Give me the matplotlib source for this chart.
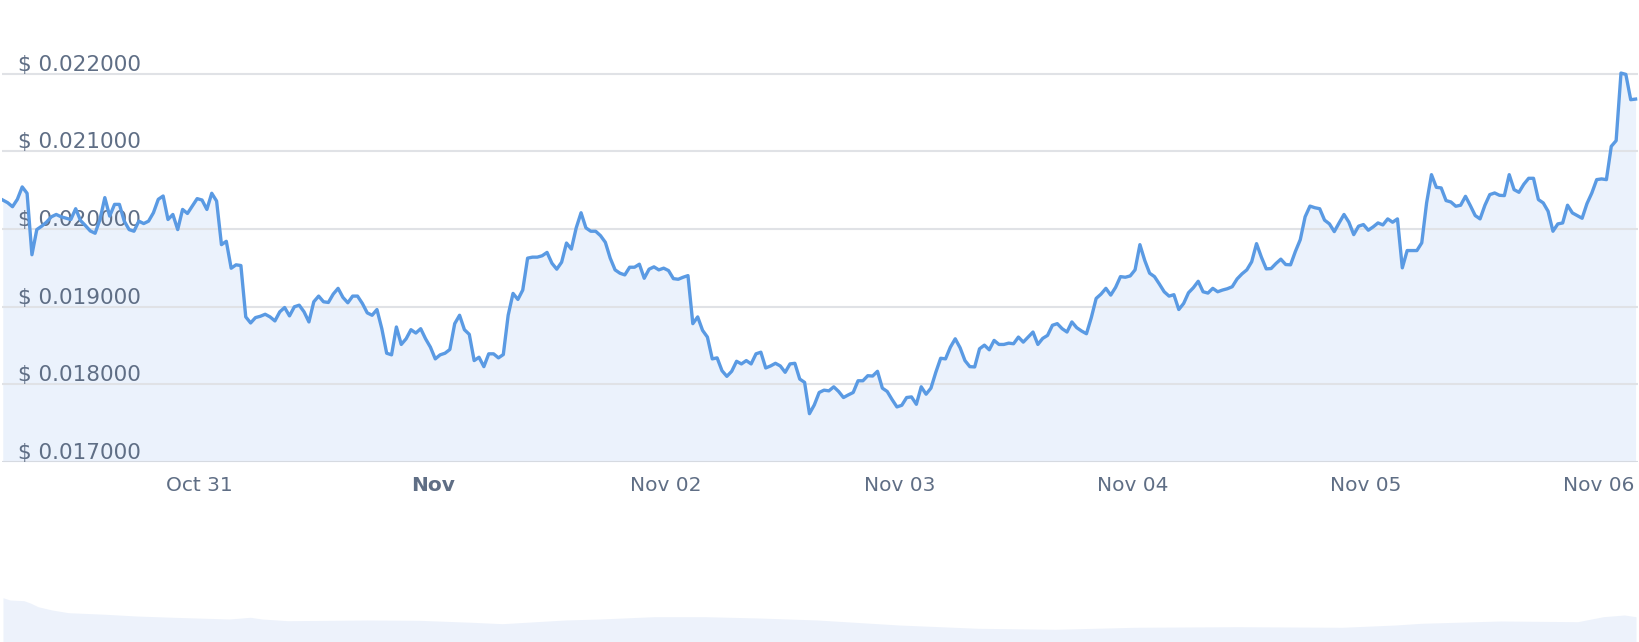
import matplotlib.pyplot as plt
import matplotlib.dates as mdates
import numpy as np
import pandas as pd

# price every 30 min (USD)
price = [
    0.020372, 0.020338, 0.020286, 0.020381, 0.020541, 0.020459, 0.019667, 0.019991, 0.020035, 0.020087,
    0.020156, 0.020186, 0.020156, 0.020139, 0.020121, 0.020260, 0.020108, 0.020043, 0.019974, 0.019944,
    0.020121, 0.020403, 0.020165, 0.020316, 0.020316, 0.020100, 0.019991, 0.019970, 0.020100, 0.020069,
    0.020100, 0.020208, 0.020381, 0.020424, 0.020121, 0.020186, 0.019991, 0.020251, 0.020199, 0.020294,
    0.020390, 0.020372, 0.020251, 0.020459, 0.020359, 0.019797, 0.019840, 0.019493, 0.019537, 0.019528,
    0.018866, 0.018788, 0.018857, 0.018874, 0.018900, 0.018866,
    0.018814, 0.018931, 0.018987, 0.018879, 0.018996, 0.019017, 0.018931, 0.018801, 0.019061, 0.019134,
    0.019061, 0.019052, 0.019160, 0.019234, 0.019117, 0.019048, 0.019134, 0.019134, 0.019039, 0.018918,
    0.018887, 0.018961, 0.018714, 0.018398, 0.018377, 0.018736, 0.018511, 0.018584, 0.018701, 0.018658,
    0.018714, 0.018584, 0.018476, 0.018325, 0.018377, 0.018398, 0.018446, 0.018779, 0.018887, 0.018701,
    0.018641, 0.018303, 0.018346, 0.018225, 0.018390, 0.018390, 0.018338, 0.018381, 0.018887, 0.019169,
    0.019091, 0.019212, 0.019623, 0.019636, 0.019636, 0.019654,
    0.019697, 0.019558, 0.019481, 0.019571, 0.019818, 0.019740, 0.020013, 0.020208, 0.020013, 0.019970,
    0.019970, 0.019913, 0.019827, 0.019623, 0.019472, 0.019429, 0.019407, 0.019506, 0.019506, 0.019545,
    0.019364, 0.019481, 0.019511, 0.019472, 0.019494, 0.019463, 0.019359, 0.019351, 0.019377, 0.019398,
    0.018779, 0.018866, 0.018693, 0.018606, 0.018325, 0.018338, 0.018173, 0.018100, 0.018165, 0.018294,
    0.018260, 0.018303, 0.018260, 0.018390, 0.018411, 0.018208, 0.018234, 0.018268, 0.018234, 0.018152,
    0.018260, 0.018268, 0.018065, 0.018022, 0.017619, 0.017732, 0.017892,
    0.017922, 0.017913, 0.017965, 0.017905, 0.017827, 0.017861, 0.017892, 0.018043, 0.018043, 0.018108,
    0.018104, 0.018165, 0.017948, 0.017905, 0.017801, 0.017706, 0.017727, 0.017827, 0.017835, 0.017740,
    0.017965, 0.017870, 0.017948, 0.018152, 0.018333, 0.018325, 0.018476, 0.018584, 0.018468, 0.018303,
    0.018225, 0.018221, 0.018455, 0.018502, 0.018442, 0.018563, 0.018511, 0.018511, 0.018528, 0.018520,
    0.018606, 0.018541, 0.018606, 0.018671, 0.018511, 0.018589, 0.018628, 0.018758, 0.018779, 0.018714,
    0.018671, 0.018801, 0.018727, 0.018684, 0.018649, 0.018857,
    0.019104, 0.019160, 0.019234, 0.019147, 0.019247, 0.019385, 0.019377, 0.019394, 0.019472, 0.019797,
    0.019593, 0.019429, 0.019385, 0.019290, 0.019190, 0.019134, 0.019152, 0.018961, 0.019039, 0.019177,
    0.019242, 0.019325, 0.019190, 0.019173, 0.019234, 0.019190, 0.019212, 0.019229, 0.019255, 0.019355,
    0.019420, 0.019472, 0.019576, 0.019810, 0.019636, 0.019485, 0.019489, 0.019554, 0.019610, 0.019541,
    0.019537, 0.019710, 0.019861, 0.020156, 0.020294, 0.020273, 0.020260, 0.020113, 0.020065, 0.019965,
    0.020078, 0.020186, 0.020087, 0.019926, 0.020035, 0.020056,
    0.019983, 0.020026, 0.020077, 0.020051, 0.020129, 0.020086, 0.020129, 0.019498, 0.019721, 0.019721,
    0.019721, 0.019820, 0.020335, 0.020699, 0.020536, 0.020528, 0.020365, 0.020347, 0.020292, 0.020305,
    0.020420, 0.020300, 0.020172, 0.020129, 0.020305, 0.020442, 0.020463, 0.020433, 0.020429, 0.020699,
    0.020506, 0.020472, 0.020575, 0.020652, 0.020652, 0.020378, 0.020335, 0.020227, 0.019970, 0.020064,
    0.020077, 0.020305, 0.020206, 0.020172, 0.020137, 0.020326, 0.020463, 0.020635, 0.020644, 0.020635,
    0.021064, 0.021137, 0.022008, 0.021991, 0.021665, 0.021673,
]
times = pd.date_range("2024-10-30 03:45", periods=len(price), freq="30min")

y_ticks = [0.017, 0.018, 0.019, 0.020, 0.021, 0.022]
x_ticks = ["2024-10-31", "2024-11-01", "2024-11-02", "2024-11-03",
           "2024-11-04", "2024-11-05", "2024-11-06"]
x_labels = ["Oct 31", "Nov", "Nov 02", "Nov 03", "Nov 04", "Nov 05", "Nov 06"]

# navigator (long history overview)
nav_days = [0, 3, 9, 12, 15, 21, 28, 44, 57, 73, 97, 106, 111, 122, 156, 178, 201, 214, 241,
            256, 279, 301, 324, 349, 384, 418, 451, 485, 529, 574, 597, 608, 642, 675, 686, 695, 700]
nav_values = [0.0443, 0.0420, 0.0413, 0.0387, 0.0353, 0.0320, 0.0293, 0.0277, 0.0260, 0.0247,
              0.0230, 0.0247, 0.0230, 0.0213, 0.0220, 0.0217, 0.0197, 0.0183, 0.0220, 0.0230,
              0.0253, 0.0253, 0.0240, 0.0220, 0.0170, 0.0137, 0.0127, 0.0147, 0.0153, 0.0147,
              0.0170, 0.0187, 0.0210, 0.0203, 0.0253, 0.0270, 0.0253]

LINE = '#5a9ae3'
FILL = '#ebf2fc'
TXT = '#5f6e85'

W, H = 1640, 642
fig = plt.figure(figsize=(W / 100, H / 100), dpi=100)
ax = fig.add_axes([2 / W, 1 - 461.7 / H, 1636 / W, (461.7 - 30) / H])

t = mdates.date2num(times)
step = t[1] - t[0]
ax.fill_between(t, price, y_ticks[0], color=FILL, lw=0, zorder=1)
for v in y_ticks:
    ax.axhline(v, color='#d6dae1' if v == y_ticks[0] else '#e0e2e6', lw=1.5, zorder=2)
ax.plot(t, price, color=LINE, lw=2.4, zorder=4, solid_joinstyle='round')

for v in y_ticks:
    ax.annotate(f"$ {v:.6f}", xy=(16 / 1636, v), xycoords=('axes fraction', 'data'),
                xytext=(0, 3), textcoords='offset pixels', ha='left', va='baseline',
                fontsize=15.5, color=TXT, zorder=3)

ax.set_xlim(t[0] - 0.16 * step, t[0] + 336.5 * step)
ax.set_ylim(y_ticks[0], y_ticks[0] + (461.7 - 30) / 77.6 * 0.001)
ax.set_xticks(mdates.date2num(pd.to_datetime(x_ticks)))
ax.set_xticklabels(x_labels, fontsize=14.5, color=TXT)
for lbl in ax.get_xticklabels():
    if lbl.get_text() == "Nov":
        lbl.set_fontweight('bold')
ax.set_yticks([])
ax.tick_params(axis='x', length=0, pad=10)
for s in ax.spines.values():
    s.set_visible(False)

nav = fig.add_axes([3 / W, 0, 1633 / W, 72 / H])
nav.fill_between(nav_days, nav_values, 0, color='#edf2fb', lw=0)
nav.set_xlim(0, 700)
nav.set_ylim(0, 0.072)
nav.axis('off')

fig.savefig('out.png', dpi=100, facecolor='white')
